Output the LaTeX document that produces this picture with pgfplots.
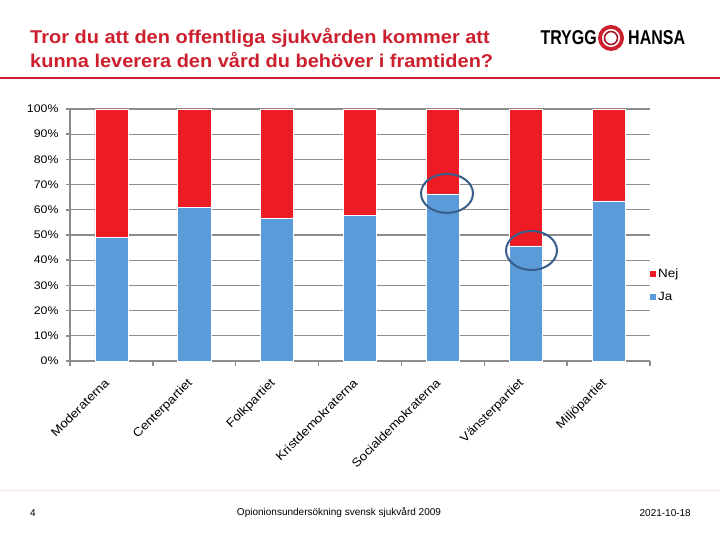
\documentclass[border=0pt]{standalone}
\usepackage{fontspec}
\setmainfont{Liberation Sans}
\newfontfamily\titlefont[FakeStretch=1.08]{Liberation Sans}
\newfontfamily\logofont[FakeStretch=0.8]{Liberation Sans}
\newfontfamily\labfont[FakeStretch=1.12]{Liberation Sans}
\usepackage{pgfplots}
\pgfplotsset{compat=1.18}
\definecolor{titlered}{HTML}{CC202E}
\definecolor{barblue}{HTML}{5B9BDA}
\definecolor{barred}{HTML}{ED1C24}
\definecolor{gridgray}{HTML}{8C8C8C}
\definecolor{ringblue}{HTML}{385D8A}
\begin{document}
\begin{tikzpicture}
\path[use as bounding box, fill=white] (0pt,0pt) rectangle (720pt,540pt);
% title
\node[anchor=base west, align=left, text=titlered, font=\titlefont\bfseries\fontsize{18.5}{24}\selectfont, inner sep=0pt] at (30pt,472pt) {Tror du att den offentliga sjukvården kommer att\\kunna leverera den vård du behöver i framtiden?};
\draw[titlered, line width=2.5pt] (0pt,462pt) -- (720pt,462pt);
% logo
\node[anchor=base east, inner sep=0pt, font=\logofont\bfseries\fontsize{20}{20}\selectfont] at (597pt,495pt) {TRYGG};
\node[anchor=base west, inner sep=0pt, font=\logofont\bfseries\fontsize{20}{20}\selectfont] at (628pt,495pt) {HANSA};
\fill[titlered] (611pt,502pt) circle (13pt);
\fill[white] (611pt,502pt) circle (9pt);
\draw[titlered!80!black, line width=1.6pt] (611pt,502pt) circle (6.5pt);
% footer
\draw[titlered!12, line width=0.8pt] (0pt,50pt) -- (720pt,50pt);
\node[anchor=base, font=\fontsize{10}{12}\selectfont] at (33pt,23pt) {4};
\node[anchor=base, font=\fontsize{10}{12}\selectfont] at (339pt,24pt) {Opionionsundersökning svensk sjukvård 2009};
\node[anchor=base east, font=\fontsize{10}{12}\selectfont, inner sep=0pt] at (691pt,23pt) {2021-10-18};
\begin{axis}[
  at={(70pt,179pt)}, anchor=south west,
  width=580pt, height=252pt, scale only axis,
  ybar stacked, bar width=0.4,
  xmin=-0.5, xmax=6.5, ymin=0, ymax=100,
  xtick={0,...,6},
  xticklabels={Moderaterna,Centerpartiet,Folkpartiet,Kristdemokraterna,Socialdemokraterna,Vänsterpartiet,Miljöpartiet},
  minor xtick={-0.5,0.5,...,6.5},
  ytick={0,10,...,100},
  yticklabels={0\%,10\%,20\%,30\%,40\%,50\%,60\%,70\%,80\%,90\%,100\%},
  axis x line*=bottom, axis y line*=left,
  axis line style={gridgray, line width=1.5pt, -},
  tick align=outside,
  major tick length=4pt, minor tick length=5pt,
  major x tick style={draw=none},
  minor x tick style={gridgray, line width=1.5pt},
  major y tick style={gridgray, line width=1.5pt},
  ymajorgrids, major grid style={gridgray, line width=1.3pt},
  yticklabel style={font=\labfont\fontsize{11}{12}\selectfont, xshift=-4pt},
  xticklabel style={font=\labfont\fontsize{12}{14}\selectfont, rotate=45, anchor=north east, xshift=-11pt, yshift=0pt},
  reverse legend,
  legend style={at={(1.0,0.375)}, anchor=north west, draw=none, fill=none, inner sep=0pt,
    font=\labfont\fontsize{12}{14}\selectfont, row sep=9pt},
  legend cell align=left,
  legend image code/.code={\fill[#1,draw=none] (0pt,-3pt) rectangle (6pt,3pt);},
  clip=false,
]
\addplot[fill=barblue, draw=white, line width=0.6pt] coordinates {(0,48.9) (1,60.9) (2,56.7) (3,57.9) (4,66.3) (5,45.7) (6,63.5)};
\addplot[fill=barred, draw=white, line width=0.6pt] coordinates {(0,51.1) (1,39.1) (2,43.3) (3,42.1) (4,33.7) (5,54.3) (6,36.5)};
\legend{Ja,Nej}
\coordinate (e1) at (axis cs:4.05,66.5);
\coordinate (e2) at (axis cs:5.07,43.85);
\end{axis}
\draw[ringblue, line width=2pt] (e1) ellipse [x radius=26pt, y radius=19.5pt];
\draw[ringblue, line width=2pt] (e2) ellipse [x radius=25.5pt, y radius=19.5pt];
\end{tikzpicture}
\end{document}
